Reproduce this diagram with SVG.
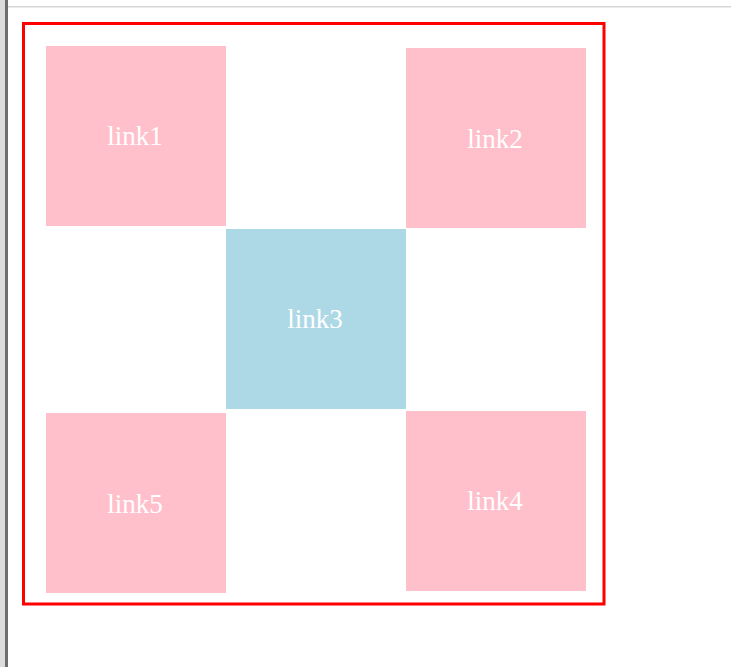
<svg xmlns="http://www.w3.org/2000/svg" width="731" height="667" viewBox="0 0 731 667">
  <style>
    .pink { fill: #ffc0cb; }
    .blue { fill: #add8e6; }
    .lbl { font-family: "Liberation Serif", "Times New Roman", serif; font-size: 27px; fill: #ffffff; text-anchor: middle; }
  </style>
  <rect x="0" y="0" width="731" height="667" fill="#ffffff"/>
  <rect x="0" y="0" width="5" height="667" fill="#dcdcdc"/>
  <rect x="5" y="0" width="3" height="667" fill="#6e6e6e"/>
  <rect x="8" y="6" width="723" height="1.5" fill="#d6d6d6"/>
  <rect id="frame" x="23.5" y="23.5" width="580.5" height="580.5" fill="none" stroke="#ff0000" stroke-width="3"/>
  <g id="link1">
    <rect class="pink" x="46" y="46" width="180" height="180"/>
    <text class="lbl" x="135" y="145">link1</text>
  </g>
  <g id="link2">
    <rect class="pink" x="406" y="48" width="180" height="180"/>
    <text class="lbl" x="495" y="147.5">link2</text>
  </g>
  <g id="link3">
    <rect class="blue" x="226" y="229" width="180" height="180"/>
    <text class="lbl" x="315" y="327.5">link3</text>
  </g>
  <g id="link4">
    <rect class="pink" x="406" y="411" width="180" height="180"/>
    <text class="lbl" x="495" y="509.5">link4</text>
  </g>
  <g id="link5">
    <rect class="pink" x="46" y="413" width="180" height="180"/>
    <text class="lbl" x="135" y="512.5">link5</text>
  </g>
  <g id="connectors"></g>
</svg>
